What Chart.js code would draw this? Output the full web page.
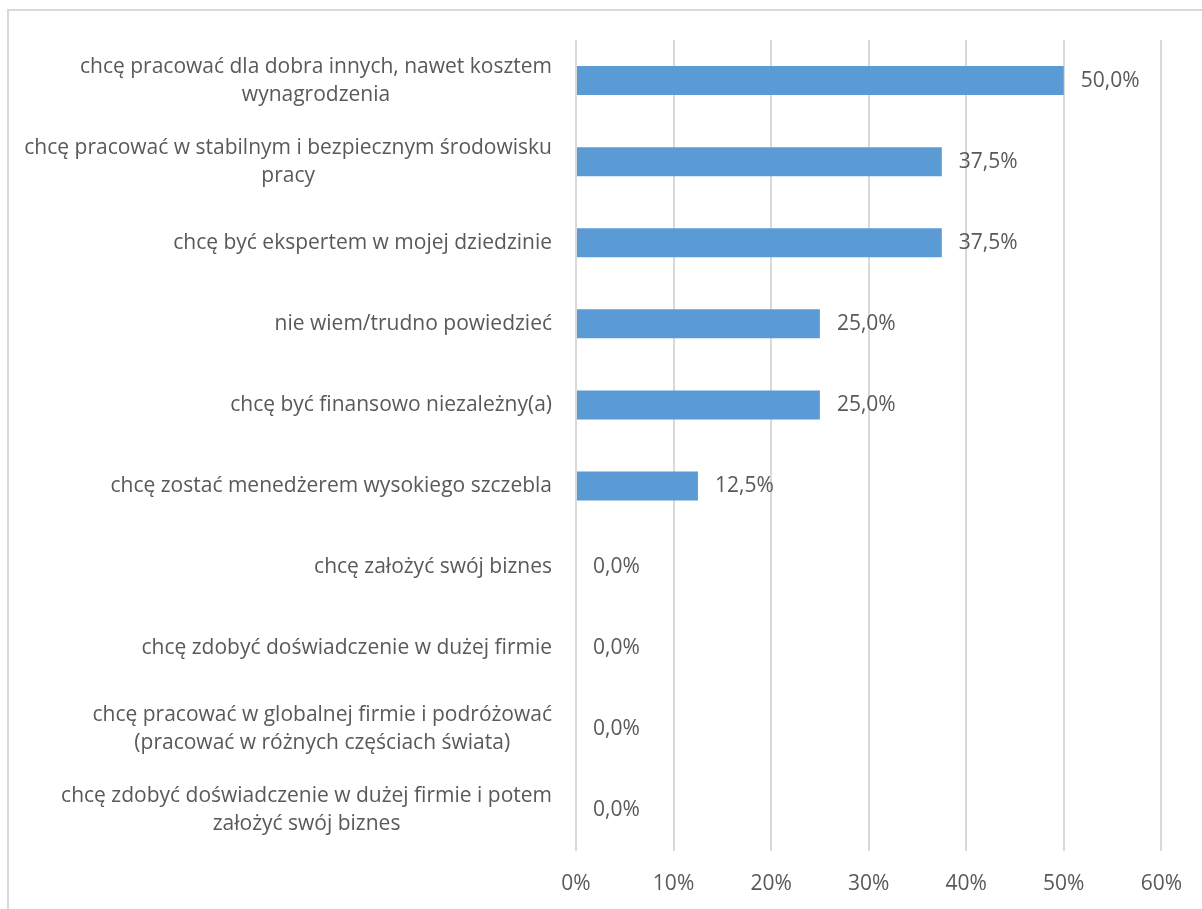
<!DOCTYPE html>
<html>
<head>
<meta charset="utf-8">
<script src="https://cdn.jsdelivr.net/npm/chart.js@4"></script>
<style>
  html, body { margin: 0; padding: 0; background: #fff; overflow: hidden; }
  #frame { position: absolute; left: 7px; top: 9px; width: 1400px; height: 1100px; border: 2px solid #d9d9d9; }
  #wrap { position: absolute; left: 0; top: 0; width: 1202px; height: 909px; }
</style>
</head>
<body>
<div id="frame"></div>
<div id="wrap"><canvas id="myChart"></canvas></div>
<script>
"use strict"

// Chart data
const categories = [
    ["chcę pracować dla dobra innych, nawet kosztem", "wynagrodzenia"],
    ["chcę pracować w stabilnym i bezpiecznym środowisku", "pracy"],
    ["chcę być ekspertem w mojej dziedzinie"],
    ["nie wiem/trudno powiedzieć"],
    ["chcę być finansowo niezależny(a)"],
    ["chcę zostać menedżerem wysokiego szczebla"],
    ["chcę założyć swój biznes"],
    ["chcę zdobyć doświadczenie w dużej firmie"],
    ["chcę pracować w globalnej firmie i podróżować", "(pracować w różnych częściach świata)"],
    ["chcę zdobyć doświadczenie w dużej firmie i potem", "założyć swój biznes"]
];
const percentValues = [50.0, 37.5, 37.5, 25.0, 25.0, 12.5, 0.0, 0.0, 0.0, 0.0];
const xTicks = [0, 10, 20, 30, 40, 50, 60];

const textColor = "#595959";
const fontFamily = "'Open Sans', sans-serif";
const fontSize = 21;

// Excel-like category labels: block right-aligned, lines centered in block
const categoryLabels = {
    id: 'categoryLabels',
    afterDraw(chart) {
        const { ctx, scales: { y } } = chart;
        ctx.save();
        ctx.font = fontSize + "px " + fontFamily;
        ctx.fillStyle = textColor;
        ctx.textAlign = "center";
        ctx.textBaseline = "middle";
        const lineHeight = 28;
        const rightEdge = y.right - 24;
        for (let i = 0; i < categories.length; i++) {
            const lines = categories[i];
            let widest = 0;
            for (let j = 0; j < lines.length; j++) {
                widest = Math.max(widest, ctx.measureText(lines[j]).width);
            }
            const cx = rightEdge - widest / 2;
            const cy = y.getPixelForValue(i);
            const startY = cy - (lines.length - 1) * lineHeight / 2;
            for (let j = 0; j < lines.length; j++) {
                ctx.fillText(lines[j], cx, startY + j * lineHeight);
            }
        }
        ctx.restore();
    }
};

// Value labels right of each bar
const valueLabels = {
    id: 'valueLabels',
    afterDatasetsDraw(chart) {
        const { ctx } = chart;
        const meta = chart.getDatasetMeta(0);
        ctx.save();
        ctx.font = fontSize + "px " + fontFamily;
        ctx.fillStyle = textColor;
        ctx.textAlign = "left";
        ctx.textBaseline = "middle";
        meta.data.forEach((bar, i) => {
            const txt = percentValues[i].toFixed(1).replace(".", ",") + "%";
            ctx.fillText(txt, bar.x + 17, bar.y);
        });
        ctx.restore();
    }
};

new Chart(document.getElementById('myChart'), {
    type: 'bar',
    data: {
        labels: categories,
        datasets: [{
            data: percentValues,
            backgroundColor: "#5b9bd5",
            borderWidth: 0,
            barPercentage: 0.358,
            categoryPercentage: 1.0
        }]
    },
    options: {
        indexAxis: 'y',
        responsive: true,
        maintainAspectRatio: false,
        animation: false,
        layout: { padding: { top: 40, right: 39, left: 0, bottom: 0 } },
        plugins: {
            legend: { display: false },
            tooltip: { enabled: false }
        },
        scales: {
            x: {
                min: 0,
                max: 60,
                afterBuildTicks(scale) {
                    scale.ticks = xTicks.map(v => ({ value: v }));
                },
                afterFit(scale) { scale.height = 58; },
                grid: { color: "#d9d9d9", lineWidth: 2, drawTicks: false },
                border: { display: false },
                ticks: {
                    padding: 20,
                    color: textColor,
                    font: { family: fontFamily, size: fontSize },
                    callback: v => v + "%"
                }
            },
            y: {
                afterFit(scale) { scale.width = 576; },
                grid: { display: false },
                border: { display: false },
                ticks: { display: true, color: "rgba(0,0,0,0)", callback: () => "" }
            }
        }
    },
    plugins: [categoryLabels, valueLabels]
});
</script>
</body>
</html>
